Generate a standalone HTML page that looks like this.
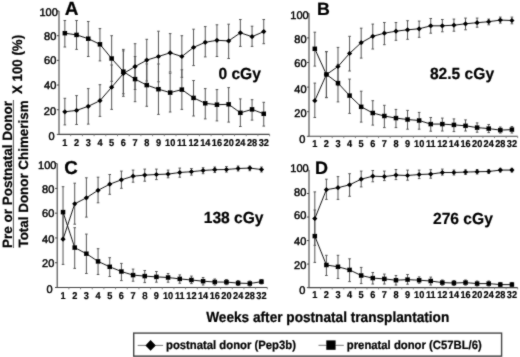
<!DOCTYPE html>
<html><head><meta charset="utf-8"><style>
html,body{margin:0;padding:0;background:#fff;}
svg{display:block;will-change:transform;}
text{font-family:"Liberation Sans", sans-serif;fill:#000;text-rendering:geometricPrecision;}
.h{stroke:#000;stroke-width:0.22px;}
</style></head><body>
<svg width="520" height="357" viewBox="0 0 520 357">
<defs><filter id="soft" filterUnits="userSpaceOnUse" x="0" y="0" width="520" height="357"><feConvolveMatrix order="3" kernelMatrix="0.025 0.08 0.025 0.08 0.58 0.08 0.025 0.08 0.025" edgeMode="duplicate"/></filter></defs>
<rect width="520" height="357" fill="#fff"/>
<g filter="url(#soft)">
<path d="M59.00 11.00V134.40H269.60" fill="none" stroke="#444" stroke-width="1.1"/>
<path d="M56.80 11.00H59.00M56.80 35.68H59.00M56.80 60.36H59.00M56.80 85.04H59.00M56.80 109.72H59.00M56.80 134.40H59.00" stroke="#444" stroke-width="1"/>
<path d="M70.70 134.40v1.8M82.40 134.40v1.8M94.10 134.40v1.8M105.80 134.40v1.8M117.50 134.40v1.8M129.20 134.40v1.8M140.90 134.40v1.8M152.60 134.40v1.8M164.30 134.40v1.8M176.00 134.40v1.8M187.70 134.40v1.8M199.40 134.40v1.8M211.10 134.40v1.8M222.80 134.40v1.8M234.50 134.40v1.8M246.20 134.40v1.8M257.90 134.40v1.8M269.60 134.40v1.8" stroke="#777" stroke-width="0.9"/>
<text x="57.80" y="15.90" text-anchor="end" font-size="11" stroke="#000" stroke-width="0.45">100</text>
<text x="56.30" y="40.40" text-anchor="end" font-size="11" stroke="#000" stroke-width="0.45">80</text>
<text x="56.30" y="64.10" text-anchor="end" font-size="11" stroke="#000" stroke-width="0.45">60</text>
<text x="56.30" y="89.40" text-anchor="end" font-size="11" stroke="#000" stroke-width="0.45">40</text>
<text x="56.10" y="114.70" text-anchor="end" font-size="11" stroke="#000" stroke-width="0.45">20</text>
<text x="54.70" y="139.60" text-anchor="end" font-size="11" stroke="#000" stroke-width="0.45">0</text>
<text transform="translate(64.85,145.60) scale(0.93,1)" text-anchor="middle" font-size="9.9" font-weight="bold" stroke="#000" stroke-width="0.2">1</text>
<text transform="translate(76.55,145.60) scale(0.93,1)" text-anchor="middle" font-size="9.9" font-weight="bold" stroke="#000" stroke-width="0.2">2</text>
<text transform="translate(88.25,145.60) scale(0.93,1)" text-anchor="middle" font-size="9.9" font-weight="bold" stroke="#000" stroke-width="0.2">3</text>
<text transform="translate(99.95,145.60) scale(0.93,1)" text-anchor="middle" font-size="9.9" font-weight="bold" stroke="#000" stroke-width="0.2">4</text>
<text transform="translate(111.65,145.60) scale(0.93,1)" text-anchor="middle" font-size="9.9" font-weight="bold" stroke="#000" stroke-width="0.2">5</text>
<text transform="translate(123.35,145.60) scale(0.93,1)" text-anchor="middle" font-size="9.9" font-weight="bold" stroke="#000" stroke-width="0.2">6</text>
<text transform="translate(135.05,145.60) scale(0.93,1)" text-anchor="middle" font-size="9.9" font-weight="bold" stroke="#000" stroke-width="0.2">7</text>
<text transform="translate(146.75,145.60) scale(0.93,1)" text-anchor="middle" font-size="9.9" font-weight="bold" stroke="#000" stroke-width="0.2">8</text>
<text transform="translate(158.45,145.60) scale(0.93,1)" text-anchor="middle" font-size="9.9" font-weight="bold" stroke="#000" stroke-width="0.2">9</text>
<text transform="translate(170.15,145.60) scale(0.93,1)" text-anchor="middle" font-size="9.9" font-weight="bold" stroke="#000" stroke-width="0.2">10</text>
<text transform="translate(181.85,145.60) scale(0.93,1)" text-anchor="middle" font-size="9.9" font-weight="bold" stroke="#000" stroke-width="0.2">11</text>
<text transform="translate(193.55,145.60) scale(0.93,1)" text-anchor="middle" font-size="9.9" font-weight="bold" stroke="#000" stroke-width="0.2">12</text>
<text transform="translate(205.25,145.60) scale(0.93,1)" text-anchor="middle" font-size="9.9" font-weight="bold" stroke="#000" stroke-width="0.2">14</text>
<text transform="translate(216.95,145.60) scale(0.93,1)" text-anchor="middle" font-size="9.9" font-weight="bold" stroke="#000" stroke-width="0.2">16</text>
<text transform="translate(228.65,145.60) scale(0.93,1)" text-anchor="middle" font-size="9.9" font-weight="bold" stroke="#000" stroke-width="0.2">20</text>
<text transform="translate(240.35,145.60) scale(0.93,1)" text-anchor="middle" font-size="9.9" font-weight="bold" stroke="#000" stroke-width="0.2">24</text>
<text transform="translate(252.05,145.60) scale(0.93,1)" text-anchor="middle" font-size="9.9" font-weight="bold" stroke="#000" stroke-width="0.2">28</text>
<text transform="translate(263.75,145.60) scale(0.93,1)" text-anchor="middle" font-size="9.9" font-weight="bold" stroke="#000" stroke-width="0.2">32</text>
<path d="M64.85 98.30V124.90M76.55 95.60V124.50M88.25 88.60V124.10M99.95 84.70V116.40M111.65 65.00V109.40M123.35 50.90V96.30M135.05 43.70V89.50M146.75 39.30V81.00M158.45 31.20V81.80M170.15 33.60V72.00M181.85 35.70V77.30M193.55 29.20V65.60M205.25 26.60V56.90M216.95 24.80V56.50M228.65 24.20V58.50M240.35 19.50V46.40M252.05 26.20V46.40M263.75 19.50V43.70" stroke="#555" stroke-width="1.0" fill="none"/>
<path d="M63.55 98.30h2.6M63.55 124.90h2.6M75.25 95.60h2.6M75.25 124.50h2.6M86.95 88.60h2.6M86.95 124.10h2.6M98.65 84.70h2.6M98.65 116.40h2.6M110.35 65.00h2.6M110.35 109.40h2.6M122.05 50.90h2.6M122.05 96.30h2.6M133.75 43.70h2.6M133.75 89.50h2.6M145.45 39.30h2.6M145.45 81.00h2.6M157.15 31.20h2.6M157.15 81.80h2.6M168.85 33.60h2.6M168.85 72.00h2.6M180.55 35.70h2.6M180.55 77.30h2.6M192.25 29.20h2.6M192.25 65.60h2.6M203.95 26.60h2.6M203.95 56.90h2.6M215.65 24.80h2.6M215.65 56.50h2.6M227.35 24.20h2.6M227.35 58.50h2.6M239.05 19.50h2.6M239.05 46.40h2.6M250.75 26.20h2.6M250.75 46.40h2.6M262.45 19.50h2.6M262.45 43.70h2.6" stroke="#555" stroke-width="1" fill="none"/>
<path d="M64.85 20.50V47.00M76.55 20.50V49.40M88.25 21.50V56.50M99.95 28.60V60.90M111.65 35.70V81.30M123.35 49.40V93.80M135.05 56.50V101.70M146.75 63.90V106.30M158.45 64.00V114.40M170.15 73.20V112.00M181.85 69.80V109.40M193.55 80.50V116.00M205.25 88.60V118.90M216.95 89.60V120.90M228.65 87.60V122.10M240.35 98.90V126.50M252.05 99.70V120.10M263.75 102.30V126.10" stroke="#555" stroke-width="1.0" fill="none"/>
<path d="M63.55 20.50h2.6M63.55 47.00h2.6M75.25 20.50h2.6M75.25 49.40h2.6M86.95 21.50h2.6M86.95 56.50h2.6M98.65 28.60h2.6M98.65 60.90h2.6M110.35 35.70h2.6M110.35 81.30h2.6M122.05 49.40h2.6M122.05 93.80h2.6M133.75 56.50h2.6M133.75 101.70h2.6M145.45 63.90h2.6M145.45 106.30h2.6M157.15 64.00h2.6M157.15 114.40h2.6M168.85 73.20h2.6M168.85 112.00h2.6M180.55 69.80h2.6M180.55 109.40h2.6M192.25 80.50h2.6M192.25 116.00h2.6M203.95 88.60h2.6M203.95 118.90h2.6M215.65 89.60h2.6M215.65 120.90h2.6M227.35 87.60h2.6M227.35 122.10h2.6M239.05 98.90h2.6M239.05 126.50h2.6M250.75 99.70h2.6M250.75 120.10h2.6M262.45 102.30h2.6M262.45 126.10h2.6" stroke="#555" stroke-width="1" fill="none"/>
<polyline points="64.85,111.80 76.55,110.40 88.25,106.30 99.95,100.70 111.65,87.20 123.35,73.60 135.05,66.60 146.75,60.10 158.45,56.50 170.15,52.80 181.85,56.50 193.55,47.40 205.25,42.30 216.95,40.30 228.65,40.90 240.35,32.80 252.05,36.70 263.75,31.60" fill="none" stroke="#111" stroke-width="1"/>
<polyline points="64.85,33.20 76.55,34.90 88.25,38.70 99.95,44.30 111.65,58.50 123.35,71.60 135.05,79.10 146.75,85.10 158.45,89.20 170.15,92.60 181.85,89.60 193.55,97.90 205.25,103.30 216.95,104.70 228.65,104.30 240.35,112.80 252.05,109.40 263.75,113.80" fill="none" stroke="#111" stroke-width="1"/>
<rect x="62.60" y="30.95" width="4.5" height="4.5" fill="#000"/>
<rect x="74.30" y="32.65" width="4.5" height="4.5" fill="#000"/>
<rect x="86.00" y="36.45" width="4.5" height="4.5" fill="#000"/>
<rect x="97.70" y="42.05" width="4.5" height="4.5" fill="#000"/>
<rect x="109.40" y="56.25" width="4.5" height="4.5" fill="#000"/>
<rect x="121.10" y="69.35" width="4.5" height="4.5" fill="#000"/>
<rect x="132.80" y="76.85" width="4.5" height="4.5" fill="#000"/>
<rect x="144.50" y="82.85" width="4.5" height="4.5" fill="#000"/>
<rect x="156.20" y="86.95" width="4.5" height="4.5" fill="#000"/>
<rect x="167.90" y="90.35" width="4.5" height="4.5" fill="#000"/>
<rect x="179.60" y="87.35" width="4.5" height="4.5" fill="#000"/>
<rect x="191.30" y="95.65" width="4.5" height="4.5" fill="#000"/>
<rect x="203.00" y="101.05" width="4.5" height="4.5" fill="#000"/>
<rect x="214.70" y="102.45" width="4.5" height="4.5" fill="#000"/>
<rect x="226.40" y="102.05" width="4.5" height="4.5" fill="#000"/>
<rect x="238.10" y="110.55" width="4.5" height="4.5" fill="#000"/>
<rect x="249.80" y="107.15" width="4.5" height="4.5" fill="#000"/>
<rect x="261.50" y="111.55" width="4.5" height="4.5" fill="#000"/>
<path d="M64.85 109.20L67.45 111.80L64.85 114.40L62.25 111.80Z" fill="#000"/>
<path d="M76.55 107.80L79.15 110.40L76.55 113.00L73.95 110.40Z" fill="#000"/>
<path d="M88.25 103.70L90.85 106.30L88.25 108.90L85.65 106.30Z" fill="#000"/>
<path d="M99.95 98.10L102.55 100.70L99.95 103.30L97.35 100.70Z" fill="#000"/>
<path d="M111.65 84.60L114.25 87.20L111.65 89.80L109.05 87.20Z" fill="#000"/>
<path d="M123.35 71.00L125.95 73.60L123.35 76.20L120.75 73.60Z" fill="#000"/>
<path d="M135.05 64.00L137.65 66.60L135.05 69.20L132.45 66.60Z" fill="#000"/>
<path d="M146.75 57.50L149.35 60.10L146.75 62.70L144.15 60.10Z" fill="#000"/>
<path d="M158.45 53.90L161.05 56.50L158.45 59.10L155.85 56.50Z" fill="#000"/>
<path d="M170.15 50.20L172.75 52.80L170.15 55.40L167.55 52.80Z" fill="#000"/>
<path d="M181.85 53.90L184.45 56.50L181.85 59.10L179.25 56.50Z" fill="#000"/>
<path d="M193.55 44.80L196.15 47.40L193.55 50.00L190.95 47.40Z" fill="#000"/>
<path d="M205.25 39.70L207.85 42.30L205.25 44.90L202.65 42.30Z" fill="#000"/>
<path d="M216.95 37.70L219.55 40.30L216.95 42.90L214.35 40.30Z" fill="#000"/>
<path d="M228.65 38.30L231.25 40.90L228.65 43.50L226.05 40.90Z" fill="#000"/>
<path d="M240.35 30.20L242.95 32.80L240.35 35.40L237.75 32.80Z" fill="#000"/>
<path d="M252.05 34.10L254.65 36.70L252.05 39.30L249.45 36.70Z" fill="#000"/>
<path d="M263.75 29.00L266.35 31.60L263.75 34.20L261.15 31.60Z" fill="#000"/>
<text x="64.80" y="14.60" font-size="19" font-weight="bold" class="h">A</text>
<text transform="translate(218.40,78.50) scale(0.975,1)" font-size="16" font-weight="bold" class="h">0 cGy</text>
<path d="M309.00 13.30V136.30H517.70" fill="none" stroke="#444" stroke-width="1.1"/>
<path d="M306.80 13.30H309.00M306.80 37.90H309.00M306.80 62.50H309.00M306.80 87.10H309.00M306.80 111.70H309.00M306.80 136.30H309.00" stroke="#444" stroke-width="1"/>
<path d="M320.59 136.30v1.8M332.19 136.30v1.8M343.78 136.30v1.8M355.38 136.30v1.8M366.97 136.30v1.8M378.57 136.30v1.8M390.16 136.30v1.8M401.76 136.30v1.8M413.35 136.30v1.8M424.94 136.30v1.8M436.54 136.30v1.8M448.13 136.30v1.8M459.73 136.30v1.8M471.32 136.30v1.8M482.92 136.30v1.8M494.51 136.30v1.8M506.11 136.30v1.8M517.70 136.30v1.8" stroke="#777" stroke-width="0.9"/>
<text x="308.70" y="19.10" text-anchor="end" font-size="11" stroke="#000" stroke-width="0.45">100</text>
<text x="306.60" y="42.90" text-anchor="end" font-size="11" stroke="#000" stroke-width="0.45">80</text>
<text x="306.60" y="66.80" text-anchor="end" font-size="11" stroke="#000" stroke-width="0.45">60</text>
<text x="306.60" y="93.30" text-anchor="end" font-size="11" stroke="#000" stroke-width="0.45">40</text>
<text x="306.60" y="117.20" text-anchor="end" font-size="11" stroke="#000" stroke-width="0.45">20</text>
<text x="305.30" y="142.70" text-anchor="end" font-size="11" stroke="#000" stroke-width="0.45">0</text>
<text transform="translate(314.80,146.60) scale(0.93,1)" text-anchor="middle" font-size="9.9" font-weight="bold" stroke="#000" stroke-width="0.2">1</text>
<text transform="translate(326.39,146.60) scale(0.93,1)" text-anchor="middle" font-size="9.9" font-weight="bold" stroke="#000" stroke-width="0.2">2</text>
<text transform="translate(337.99,146.60) scale(0.93,1)" text-anchor="middle" font-size="9.9" font-weight="bold" stroke="#000" stroke-width="0.2">3</text>
<text transform="translate(349.58,146.60) scale(0.93,1)" text-anchor="middle" font-size="9.9" font-weight="bold" stroke="#000" stroke-width="0.2">4</text>
<text transform="translate(361.18,146.60) scale(0.93,1)" text-anchor="middle" font-size="9.9" font-weight="bold" stroke="#000" stroke-width="0.2">5</text>
<text transform="translate(372.77,146.60) scale(0.93,1)" text-anchor="middle" font-size="9.9" font-weight="bold" stroke="#000" stroke-width="0.2">6</text>
<text transform="translate(384.36,146.60) scale(0.93,1)" text-anchor="middle" font-size="9.9" font-weight="bold" stroke="#000" stroke-width="0.2">7</text>
<text transform="translate(395.96,146.60) scale(0.93,1)" text-anchor="middle" font-size="9.9" font-weight="bold" stroke="#000" stroke-width="0.2">8</text>
<text transform="translate(407.55,146.60) scale(0.93,1)" text-anchor="middle" font-size="9.9" font-weight="bold" stroke="#000" stroke-width="0.2">9</text>
<text transform="translate(419.15,146.60) scale(0.93,1)" text-anchor="middle" font-size="9.9" font-weight="bold" stroke="#000" stroke-width="0.2">10</text>
<text transform="translate(430.74,146.60) scale(0.93,1)" text-anchor="middle" font-size="9.9" font-weight="bold" stroke="#000" stroke-width="0.2">11</text>
<text transform="translate(442.34,146.60) scale(0.93,1)" text-anchor="middle" font-size="9.9" font-weight="bold" stroke="#000" stroke-width="0.2">12</text>
<text transform="translate(453.93,146.60) scale(0.93,1)" text-anchor="middle" font-size="9.9" font-weight="bold" stroke="#000" stroke-width="0.2">14</text>
<text transform="translate(465.53,146.60) scale(0.93,1)" text-anchor="middle" font-size="9.9" font-weight="bold" stroke="#000" stroke-width="0.2">16</text>
<text transform="translate(477.12,146.60) scale(0.93,1)" text-anchor="middle" font-size="9.9" font-weight="bold" stroke="#000" stroke-width="0.2">20</text>
<text transform="translate(488.71,146.60) scale(0.93,1)" text-anchor="middle" font-size="9.9" font-weight="bold" stroke="#000" stroke-width="0.2">24</text>
<text transform="translate(500.31,146.60) scale(0.93,1)" text-anchor="middle" font-size="9.9" font-weight="bold" stroke="#000" stroke-width="0.2">28</text>
<text transform="translate(511.90,146.60) scale(0.93,1)" text-anchor="middle" font-size="9.9" font-weight="bold" stroke="#000" stroke-width="0.2">32</text>
<path d="M314.80 83.10V117.50M326.39 51.80V97.40M337.99 47.40V85.60M349.58 36.30V71.00M361.18 28.20V58.10M372.77 24.10V49.00M384.36 22.50V44.70M395.96 22.50V40.30M407.55 20.70V39.30M419.15 21.10V37.30M430.74 18.50V33.20M442.34 19.50V31.80M453.93 19.10V31.20M465.53 18.10V29.80M477.12 18.10V27.20M488.71 19.10V24.80M500.31 17.10V23.10M511.90 17.10V23.80" stroke="#555" stroke-width="1.0" fill="none"/>
<path d="M313.50 83.10h2.6M313.50 117.50h2.6M325.09 51.80h2.6M325.09 97.40h2.6M336.69 47.40h2.6M336.69 85.60h2.6M348.28 36.30h2.6M348.28 71.00h2.6M359.88 28.20h2.6M359.88 58.10h2.6M371.47 24.10h2.6M371.47 49.00h2.6M383.06 22.50h2.6M383.06 44.70h2.6M394.66 22.50h2.6M394.66 40.30h2.6M406.25 20.70h2.6M406.25 39.30h2.6M417.85 21.10h2.6M417.85 37.30h2.6M429.44 18.50h2.6M429.44 33.20h2.6M441.04 19.50h2.6M441.04 31.80h2.6M452.63 19.10h2.6M452.63 31.20h2.6M464.23 18.10h2.6M464.23 29.80h2.6M475.82 18.10h2.6M475.82 27.20h2.6M487.41 19.10h2.6M487.41 24.80h2.6M499.01 17.10h2.6M499.01 23.10h2.6M510.60 17.10h2.6M510.60 23.80h2.6" stroke="#555" stroke-width="1" fill="none"/>
<path d="M314.80 32.20V66.10M326.39 51.50V97.70M337.99 64.30V101.90M349.58 79.10V113.40M361.18 91.20V122.10M372.77 100.70V125.10M384.36 105.30V127.60M395.96 109.40V127.60M407.55 110.40V129.20M419.15 112.40V129.20M430.74 117.50V131.20M442.34 118.10V131.00M453.93 118.90V131.60M465.53 119.90V131.00M477.12 122.90V132.20M488.71 124.50V132.60M500.31 127.00V133.00M511.90 126.50V133.00" stroke="#555" stroke-width="1.0" fill="none"/>
<path d="M313.50 32.20h2.6M313.50 66.10h2.6M325.09 51.50h2.6M325.09 97.70h2.6M336.69 64.30h2.6M336.69 101.90h2.6M348.28 79.10h2.6M348.28 113.40h2.6M359.88 91.20h2.6M359.88 122.10h2.6M371.47 100.70h2.6M371.47 125.10h2.6M383.06 105.30h2.6M383.06 127.60h2.6M394.66 109.40h2.6M394.66 127.60h2.6M406.25 110.40h2.6M406.25 129.20h2.6M417.85 112.40h2.6M417.85 129.20h2.6M429.44 117.50h2.6M429.44 131.20h2.6M441.04 118.10h2.6M441.04 131.00h2.6M452.63 118.90h2.6M452.63 131.60h2.6M464.23 119.90h2.6M464.23 131.00h2.6M475.82 122.90h2.6M475.82 132.20h2.6M487.41 124.50h2.6M487.41 132.60h2.6M499.01 127.00h2.6M499.01 133.00h2.6M510.60 126.50h2.6M510.60 133.00h2.6" stroke="#555" stroke-width="1" fill="none"/>
<polyline points="314.80,100.70 326.39,74.60 337.99,66.50 349.58,53.40 361.18,42.70 372.77,36.30 384.36,33.20 395.96,31.20 407.55,29.80 419.15,28.80 430.74,25.80 442.34,25.80 453.93,25.20 465.53,23.80 477.12,22.70 488.71,21.70 500.31,20.10 511.90,20.50" fill="none" stroke="#111" stroke-width="1"/>
<polyline points="314.80,48.80 326.39,74.40 337.99,83.10 349.58,95.60 361.18,106.80 372.77,113.00 384.36,116.00 395.96,118.10 407.55,119.50 419.15,120.50 430.74,124.10 442.34,124.10 453.93,124.90 465.53,125.80 477.12,127.60 488.71,128.60 500.31,130.10 511.90,129.60" fill="none" stroke="#111" stroke-width="1"/>
<rect x="312.55" y="46.55" width="4.5" height="4.5" fill="#000"/>
<rect x="324.14" y="72.15" width="4.5" height="4.5" fill="#000"/>
<rect x="335.74" y="80.85" width="4.5" height="4.5" fill="#000"/>
<rect x="347.33" y="93.35" width="4.5" height="4.5" fill="#000"/>
<rect x="358.93" y="104.55" width="4.5" height="4.5" fill="#000"/>
<rect x="370.52" y="110.75" width="4.5" height="4.5" fill="#000"/>
<rect x="382.11" y="113.75" width="4.5" height="4.5" fill="#000"/>
<rect x="393.71" y="115.85" width="4.5" height="4.5" fill="#000"/>
<rect x="405.30" y="117.25" width="4.5" height="4.5" fill="#000"/>
<rect x="416.90" y="118.25" width="4.5" height="4.5" fill="#000"/>
<rect x="428.49" y="121.85" width="4.5" height="4.5" fill="#000"/>
<rect x="440.09" y="121.85" width="4.5" height="4.5" fill="#000"/>
<rect x="451.68" y="122.65" width="4.5" height="4.5" fill="#000"/>
<rect x="463.28" y="123.55" width="4.5" height="4.5" fill="#000"/>
<rect x="474.87" y="125.35" width="4.5" height="4.5" fill="#000"/>
<rect x="486.46" y="126.35" width="4.5" height="4.5" fill="#000"/>
<rect x="498.06" y="127.85" width="4.5" height="4.5" fill="#000"/>
<rect x="509.65" y="127.35" width="4.5" height="4.5" fill="#000"/>
<path d="M314.80 98.10L317.40 100.70L314.80 103.30L312.20 100.70Z" fill="#000"/>
<path d="M326.39 72.00L328.99 74.60L326.39 77.20L323.79 74.60Z" fill="#000"/>
<path d="M337.99 63.90L340.59 66.50L337.99 69.10L335.39 66.50Z" fill="#000"/>
<path d="M349.58 50.80L352.18 53.40L349.58 56.00L346.98 53.40Z" fill="#000"/>
<path d="M361.18 40.10L363.78 42.70L361.18 45.30L358.57 42.70Z" fill="#000"/>
<path d="M372.77 33.70L375.37 36.30L372.77 38.90L370.17 36.30Z" fill="#000"/>
<path d="M384.36 30.60L386.96 33.20L384.36 35.80L381.76 33.20Z" fill="#000"/>
<path d="M395.96 28.60L398.56 31.20L395.96 33.80L393.36 31.20Z" fill="#000"/>
<path d="M407.55 27.20L410.15 29.80L407.55 32.40L404.95 29.80Z" fill="#000"/>
<path d="M419.15 26.20L421.75 28.80L419.15 31.40L416.55 28.80Z" fill="#000"/>
<path d="M430.74 23.20L433.34 25.80L430.74 28.40L428.14 25.80Z" fill="#000"/>
<path d="M442.34 23.20L444.94 25.80L442.34 28.40L439.74 25.80Z" fill="#000"/>
<path d="M453.93 22.60L456.53 25.20L453.93 27.80L451.33 25.20Z" fill="#000"/>
<path d="M465.53 21.20L468.13 23.80L465.53 26.40L462.93 23.80Z" fill="#000"/>
<path d="M477.12 20.10L479.72 22.70L477.12 25.30L474.52 22.70Z" fill="#000"/>
<path d="M488.71 19.10L491.31 21.70L488.71 24.30L486.11 21.70Z" fill="#000"/>
<path d="M500.31 17.50L502.91 20.10L500.31 22.70L497.71 20.10Z" fill="#000"/>
<path d="M511.90 17.90L514.50 20.50L511.90 23.10L509.30 20.50Z" fill="#000"/>
<text x="317.00" y="14.50" font-size="17.8" font-weight="bold" class="h">B</text>
<text transform="translate(429.90,78.70) scale(0.975,1)" font-size="16" font-weight="bold" class="h">82.5 cGy</text>
<path d="M57.20 163.60V287.50H267.30" fill="none" stroke="#444" stroke-width="1.1"/>
<path d="M55.00 163.60H57.20M55.00 188.38H57.20M55.00 213.16H57.20M55.00 237.94H57.20M55.00 262.72H57.20M55.00 287.50H57.20" stroke="#444" stroke-width="1"/>
<path d="M68.87 287.50v1.8M80.54 287.50v1.8M92.22 287.50v1.8M103.89 287.50v1.8M115.56 287.50v1.8M127.23 287.50v1.8M138.91 287.50v1.8M150.58 287.50v1.8M162.25 287.50v1.8M173.92 287.50v1.8M185.59 287.50v1.8M197.27 287.50v1.8M208.94 287.50v1.8M220.61 287.50v1.8M232.28 287.50v1.8M243.96 287.50v1.8M255.63 287.50v1.8M267.30 287.50v1.8" stroke="#777" stroke-width="0.9"/>
<text x="56.40" y="169.10" text-anchor="end" font-size="11" stroke="#000" stroke-width="0.45">100</text>
<text x="54.30" y="192.90" text-anchor="end" font-size="11" stroke="#000" stroke-width="0.45">80</text>
<text x="54.30" y="216.80" text-anchor="end" font-size="11" stroke="#000" stroke-width="0.45">60</text>
<text x="54.30" y="243.30" text-anchor="end" font-size="11" stroke="#000" stroke-width="0.45">40</text>
<text x="54.30" y="267.40" text-anchor="end" font-size="11" stroke="#000" stroke-width="0.45">20</text>
<text x="52.70" y="292.80" text-anchor="end" font-size="11" stroke="#000" stroke-width="0.45">0</text>
<text transform="translate(63.04,298.50) scale(0.93,1)" text-anchor="middle" font-size="9.9" font-weight="bold" stroke="#000" stroke-width="0.2">1</text>
<text transform="translate(74.71,298.50) scale(0.93,1)" text-anchor="middle" font-size="9.9" font-weight="bold" stroke="#000" stroke-width="0.2">2</text>
<text transform="translate(86.38,298.50) scale(0.93,1)" text-anchor="middle" font-size="9.9" font-weight="bold" stroke="#000" stroke-width="0.2">3</text>
<text transform="translate(98.05,298.50) scale(0.93,1)" text-anchor="middle" font-size="9.9" font-weight="bold" stroke="#000" stroke-width="0.2">4</text>
<text transform="translate(109.73,298.50) scale(0.93,1)" text-anchor="middle" font-size="9.9" font-weight="bold" stroke="#000" stroke-width="0.2">5</text>
<text transform="translate(121.40,298.50) scale(0.93,1)" text-anchor="middle" font-size="9.9" font-weight="bold" stroke="#000" stroke-width="0.2">6</text>
<text transform="translate(133.07,298.50) scale(0.93,1)" text-anchor="middle" font-size="9.9" font-weight="bold" stroke="#000" stroke-width="0.2">7</text>
<text transform="translate(145.04,299.40)" text-anchor="middle" font-size="9.6" stroke="#000" stroke-width="0.45">8</text>
<text transform="translate(156.41,298.50) scale(0.93,1)" text-anchor="middle" font-size="9.9" font-weight="bold" stroke="#000" stroke-width="0.2">9</text>
<text transform="translate(168.09,298.50) scale(0.93,1)" text-anchor="middle" font-size="9.9" font-weight="bold" stroke="#000" stroke-width="0.2">10</text>
<text transform="translate(179.76,298.50) scale(0.93,1)" text-anchor="middle" font-size="9.9" font-weight="bold" stroke="#000" stroke-width="0.2">11</text>
<text transform="translate(191.43,298.50) scale(0.93,1)" text-anchor="middle" font-size="9.9" font-weight="bold" stroke="#000" stroke-width="0.2">12</text>
<text transform="translate(203.10,298.50) scale(0.93,1)" text-anchor="middle" font-size="9.9" font-weight="bold" stroke="#000" stroke-width="0.2">14</text>
<text transform="translate(214.78,298.50) scale(0.93,1)" text-anchor="middle" font-size="9.9" font-weight="bold" stroke="#000" stroke-width="0.2">16</text>
<text transform="translate(226.45,298.50) scale(0.93,1)" text-anchor="middle" font-size="9.9" font-weight="bold" stroke="#000" stroke-width="0.2">20</text>
<text transform="translate(238.12,298.50) scale(0.93,1)" text-anchor="middle" font-size="9.9" font-weight="bold" stroke="#000" stroke-width="0.2">24</text>
<text transform="translate(249.79,298.50) scale(0.93,1)" text-anchor="middle" font-size="9.9" font-weight="bold" stroke="#000" stroke-width="0.2">28</text>
<text transform="translate(261.46,298.50) scale(0.93,1)" text-anchor="middle" font-size="9.9" font-weight="bold" stroke="#000" stroke-width="0.2">32</text>
<path d="M63.04 214.00V264.40M74.71 183.20V224.20M86.38 177.80V217.10M98.05 177.20V202.80M109.73 174.50V194.30M121.40 171.10V188.30M133.07 170.10V182.20M144.74 169.10V181.20M156.41 169.10V179.60M168.09 170.10V177.80M179.76 168.10V177.20M191.43 168.50V175.10M203.10 167.70V173.70M214.78 167.00V172.50M226.45 166.50V172.10M238.12 166.00V171.00M249.79 166.10V170.70M261.46 167.00V172.00" stroke="#555" stroke-width="1.0" fill="none"/>
<path d="M61.74 214.00h2.6M61.74 264.40h2.6M73.41 183.20h2.6M73.41 224.20h2.6M85.08 177.80h2.6M85.08 217.10h2.6M96.75 177.20h2.6M96.75 202.80h2.6M108.43 174.50h2.6M108.43 194.30h2.6M120.10 171.10h2.6M120.10 188.30h2.6M131.77 170.10h2.6M131.77 182.20h2.6M143.44 169.10h2.6M143.44 181.20h2.6M155.11 169.10h2.6M155.11 179.60h2.6M166.79 170.10h2.6M166.79 177.80h2.6M178.46 168.10h2.6M178.46 177.20h2.6M190.13 168.50h2.6M190.13 175.10h2.6M201.80 167.70h2.6M201.80 173.70h2.6M213.48 167.00h2.6M213.48 172.50h2.6M225.15 166.50h2.6M225.15 172.10h2.6M236.82 166.00h2.6M236.82 171.00h2.6M248.49 166.10h2.6M248.49 170.70h2.6M260.16 167.00h2.6M260.16 172.00h2.6" stroke="#555" stroke-width="1" fill="none"/>
<path d="M63.04 186.70V237.50M74.71 227.70V268.40M86.38 234.10V273.50M98.05 248.70V274.50M109.73 257.70V276.50M121.40 263.40V280.60M133.07 269.10V281.20M144.74 270.50V282.60M156.41 271.50V282.20M168.09 273.50V282.20M179.76 274.90V283.20M191.43 276.10V283.60M203.10 277.50V285.00M214.78 279.00V285.00M226.45 279.50V284.70M238.12 280.50V285.50M249.79 281.00V286.00M261.46 279.50V284.00" stroke="#555" stroke-width="1.0" fill="none"/>
<path d="M61.74 186.70h2.6M61.74 237.50h2.6M73.41 227.70h2.6M73.41 268.40h2.6M85.08 234.10h2.6M85.08 273.50h2.6M96.75 248.70h2.6M96.75 274.50h2.6M108.43 257.70h2.6M108.43 276.50h2.6M120.10 263.40h2.6M120.10 280.60h2.6M131.77 269.10h2.6M131.77 281.20h2.6M143.44 270.50h2.6M143.44 282.60h2.6M155.11 271.50h2.6M155.11 282.20h2.6M166.79 273.50h2.6M166.79 282.20h2.6M178.46 274.90h2.6M178.46 283.20h2.6M190.13 276.10h2.6M190.13 283.60h2.6M201.80 277.50h2.6M201.80 285.00h2.6M213.48 279.00h2.6M213.48 285.00h2.6M225.15 279.50h2.6M225.15 284.70h2.6M236.82 280.50h2.6M236.82 285.50h2.6M248.49 281.00h2.6M248.49 286.00h2.6M260.16 279.50h2.6M260.16 284.00h2.6" stroke="#555" stroke-width="1" fill="none"/>
<polyline points="63.04,239.20 74.71,203.80 86.38,197.80 98.05,190.30 109.73,184.20 121.40,179.80 133.07,176.20 144.74,175.10 156.41,174.50 168.09,174.10 179.76,172.50 191.43,171.70 203.10,170.50 214.78,169.70 226.45,169.50 238.12,168.50 249.79,168.10 261.46,169.50" fill="none" stroke="#111" stroke-width="1"/>
<polyline points="63.04,212.10 74.71,247.60 86.38,253.70 98.05,261.40 109.73,266.80 121.40,271.50 133.07,275.10 144.74,276.10 156.41,276.90 168.09,277.50 179.76,278.90 191.43,280.00 203.10,281.20 214.78,282.00 226.45,282.10 238.12,283.10 249.79,283.50 261.46,281.70" fill="none" stroke="#111" stroke-width="1"/>
<rect x="60.79" y="209.85" width="4.5" height="4.5" fill="#000"/>
<rect x="72.46" y="245.35" width="4.5" height="4.5" fill="#000"/>
<rect x="84.13" y="251.45" width="4.5" height="4.5" fill="#000"/>
<rect x="95.80" y="259.15" width="4.5" height="4.5" fill="#000"/>
<rect x="107.48" y="264.55" width="4.5" height="4.5" fill="#000"/>
<rect x="119.15" y="269.25" width="4.5" height="4.5" fill="#000"/>
<rect x="130.82" y="272.85" width="4.5" height="4.5" fill="#000"/>
<rect x="142.49" y="273.85" width="4.5" height="4.5" fill="#000"/>
<rect x="154.16" y="274.65" width="4.5" height="4.5" fill="#000"/>
<rect x="165.84" y="275.25" width="4.5" height="4.5" fill="#000"/>
<rect x="177.51" y="276.65" width="4.5" height="4.5" fill="#000"/>
<rect x="189.18" y="277.75" width="4.5" height="4.5" fill="#000"/>
<rect x="200.85" y="278.95" width="4.5" height="4.5" fill="#000"/>
<rect x="212.53" y="279.75" width="4.5" height="4.5" fill="#000"/>
<rect x="224.20" y="279.85" width="4.5" height="4.5" fill="#000"/>
<rect x="235.87" y="280.85" width="4.5" height="4.5" fill="#000"/>
<rect x="247.54" y="281.25" width="4.5" height="4.5" fill="#000"/>
<rect x="259.21" y="279.45" width="4.5" height="4.5" fill="#000"/>
<path d="M63.04 236.60L65.64 239.20L63.04 241.80L60.44 239.20Z" fill="#000"/>
<path d="M74.71 201.20L77.31 203.80L74.71 206.40L72.11 203.80Z" fill="#000"/>
<path d="M86.38 195.20L88.98 197.80L86.38 200.40L83.78 197.80Z" fill="#000"/>
<path d="M98.05 187.70L100.65 190.30L98.05 192.90L95.45 190.30Z" fill="#000"/>
<path d="M109.73 181.60L112.33 184.20L109.73 186.80L107.13 184.20Z" fill="#000"/>
<path d="M121.40 177.20L124.00 179.80L121.40 182.40L118.80 179.80Z" fill="#000"/>
<path d="M133.07 173.60L135.67 176.20L133.07 178.80L130.47 176.20Z" fill="#000"/>
<path d="M144.74 172.50L147.34 175.10L144.74 177.70L142.14 175.10Z" fill="#000"/>
<path d="M156.41 171.90L159.01 174.50L156.41 177.10L153.81 174.50Z" fill="#000"/>
<path d="M168.09 171.50L170.69 174.10L168.09 176.70L165.49 174.10Z" fill="#000"/>
<path d="M179.76 169.90L182.36 172.50L179.76 175.10L177.16 172.50Z" fill="#000"/>
<path d="M191.43 169.10L194.03 171.70L191.43 174.30L188.83 171.70Z" fill="#000"/>
<path d="M203.10 167.90L205.70 170.50L203.10 173.10L200.50 170.50Z" fill="#000"/>
<path d="M214.78 167.10L217.38 169.70L214.78 172.30L212.18 169.70Z" fill="#000"/>
<path d="M226.45 166.90L229.05 169.50L226.45 172.10L223.85 169.50Z" fill="#000"/>
<path d="M238.12 165.90L240.72 168.50L238.12 171.10L235.52 168.50Z" fill="#000"/>
<path d="M249.79 165.50L252.39 168.10L249.79 170.70L247.19 168.10Z" fill="#000"/>
<path d="M261.46 166.90L264.06 169.50L261.46 172.10L258.86 169.50Z" fill="#000"/>
<text x="64.20" y="174.00" font-size="18.8" font-weight="bold" class="h">C</text>
<text transform="translate(203.70,222.90) scale(0.975,1)" font-size="16" font-weight="bold" class="h">138 cGy</text>
<path d="M309.00 170.00V287.60H517.70" fill="none" stroke="#444" stroke-width="1.1"/>
<path d="M306.80 170.00H309.00M306.80 193.52H309.00M306.80 217.04H309.00M306.80 240.56H309.00M306.80 264.08H309.00M306.80 287.60H309.00" stroke="#444" stroke-width="1"/>
<path d="M320.59 287.60v1.8M332.19 287.60v1.8M343.78 287.60v1.8M355.38 287.60v1.8M366.97 287.60v1.8M378.57 287.60v1.8M390.16 287.60v1.8M401.76 287.60v1.8M413.35 287.60v1.8M424.94 287.60v1.8M436.54 287.60v1.8M448.13 287.60v1.8M459.73 287.60v1.8M471.32 287.60v1.8M482.92 287.60v1.8M494.51 287.60v1.8M506.11 287.60v1.8M517.70 287.60v1.8" stroke="#777" stroke-width="0.9"/>
<text x="308.70" y="172.00" text-anchor="end" font-size="11" stroke="#000" stroke-width="0.45">100</text>
<text x="306.30" y="196.40" text-anchor="end" font-size="11" stroke="#000" stroke-width="0.45">80</text>
<text x="306.30" y="219.20" text-anchor="end" font-size="11" stroke="#000" stroke-width="0.45">60</text>
<text x="306.30" y="245.20" text-anchor="end" font-size="11" stroke="#000" stroke-width="0.45">40</text>
<text x="306.30" y="268.90" text-anchor="end" font-size="11" stroke="#000" stroke-width="0.45">20</text>
<text x="305.30" y="294.30" text-anchor="end" font-size="11" stroke="#000" stroke-width="0.45">0</text>
<text transform="translate(314.80,297.80) scale(0.93,1)" text-anchor="middle" font-size="9.9" font-weight="bold" stroke="#000" stroke-width="0.2">1</text>
<text transform="translate(326.39,297.80) scale(0.93,1)" text-anchor="middle" font-size="9.9" font-weight="bold" stroke="#000" stroke-width="0.2">2</text>
<text transform="translate(337.99,297.80) scale(0.93,1)" text-anchor="middle" font-size="9.9" font-weight="bold" stroke="#000" stroke-width="0.2">3</text>
<text transform="translate(349.58,297.80) scale(0.93,1)" text-anchor="middle" font-size="9.9" font-weight="bold" stroke="#000" stroke-width="0.2">4</text>
<text transform="translate(361.18,297.80) scale(0.93,1)" text-anchor="middle" font-size="9.9" font-weight="bold" stroke="#000" stroke-width="0.2">5</text>
<text transform="translate(372.77,297.80) scale(0.93,1)" text-anchor="middle" font-size="9.9" font-weight="bold" stroke="#000" stroke-width="0.2">6</text>
<text transform="translate(384.36,297.80) scale(0.93,1)" text-anchor="middle" font-size="9.9" font-weight="bold" stroke="#000" stroke-width="0.2">7</text>
<text transform="translate(395.96,297.80) scale(0.93,1)" text-anchor="middle" font-size="9.9" font-weight="bold" stroke="#000" stroke-width="0.2">8</text>
<text transform="translate(407.55,297.80) scale(0.93,1)" text-anchor="middle" font-size="9.9" font-weight="bold" stroke="#000" stroke-width="0.2">9</text>
<text transform="translate(419.15,297.80) scale(0.93,1)" text-anchor="middle" font-size="9.9" font-weight="bold" stroke="#000" stroke-width="0.2">10</text>
<text transform="translate(430.74,297.80) scale(0.93,1)" text-anchor="middle" font-size="9.9" font-weight="bold" stroke="#000" stroke-width="0.2">11</text>
<text transform="translate(442.34,297.80) scale(0.93,1)" text-anchor="middle" font-size="9.9" font-weight="bold" stroke="#000" stroke-width="0.2">12</text>
<text transform="translate(453.93,297.80) scale(0.93,1)" text-anchor="middle" font-size="9.9" font-weight="bold" stroke="#000" stroke-width="0.2">14</text>
<text transform="translate(465.53,297.80) scale(0.93,1)" text-anchor="middle" font-size="9.9" font-weight="bold" stroke="#000" stroke-width="0.2">16</text>
<text transform="translate(477.12,297.80) scale(0.93,1)" text-anchor="middle" font-size="9.9" font-weight="bold" stroke="#000" stroke-width="0.2">20</text>
<text transform="translate(488.71,297.80) scale(0.93,1)" text-anchor="middle" font-size="9.9" font-weight="bold" stroke="#000" stroke-width="0.2">24</text>
<text transform="translate(500.31,297.80) scale(0.93,1)" text-anchor="middle" font-size="9.9" font-weight="bold" stroke="#000" stroke-width="0.2">28</text>
<text transform="translate(511.90,297.80) scale(0.93,1)" text-anchor="middle" font-size="9.9" font-weight="bold" stroke="#000" stroke-width="0.2">32</text>
<path d="M314.80 191.90V245.30M326.39 179.20V199.40M337.99 176.60V199.40M349.58 173.70V196.30M361.18 171.10V186.90M372.77 170.50V181.80M384.36 171.10V180.60M395.96 169.50V179.60M407.55 170.10V180.20M419.15 170.10V178.60M430.74 169.70V178.20M442.34 169.10V175.10M453.93 170.00V175.00M465.53 169.80V174.50M477.12 169.50V174.00M488.71 169.50V173.50M500.31 168.30V172.00M511.90 168.30V172.00" stroke="#555" stroke-width="1.0" fill="none"/>
<path d="M313.50 191.90h2.6M313.50 245.30h2.6M325.09 179.20h2.6M325.09 199.40h2.6M336.69 176.60h2.6M336.69 199.40h2.6M348.28 173.70h2.6M348.28 196.30h2.6M359.88 171.10h2.6M359.88 186.90h2.6M371.47 170.50h2.6M371.47 181.80h2.6M383.06 171.10h2.6M383.06 180.60h2.6M394.66 169.50h2.6M394.66 179.60h2.6M406.25 170.10h2.6M406.25 180.20h2.6M417.85 170.10h2.6M417.85 178.60h2.6M429.44 169.70h2.6M429.44 178.20h2.6M441.04 169.10h2.6M441.04 175.10h2.6M452.63 170.00h2.6M452.63 175.00h2.6M464.23 169.80h2.6M464.23 174.50h2.6M475.82 169.50h2.6M475.82 174.00h2.6M487.41 169.50h2.6M487.41 173.50h2.6M499.01 168.30h2.6M499.01 172.00h2.6M510.60 168.30h2.6M510.60 172.00h2.6" stroke="#555" stroke-width="1" fill="none"/>
<path d="M314.80 210.00V262.40M326.39 255.30V275.50M337.99 255.30V278.50M349.58 258.80V281.60M361.18 267.40V283.60M372.77 272.50V284.00M384.36 274.10V284.00M395.96 275.50V285.00M407.55 274.50V284.20M419.15 276.90V283.20M430.74 277.10V285.00M442.34 280.00V285.20M453.93 280.50V285.50M465.53 280.00V285.20M477.12 281.00V286.00M488.71 281.00V286.00M500.31 282.50V286.70M511.90 282.50V286.70" stroke="#555" stroke-width="1.0" fill="none"/>
<path d="M313.50 210.00h2.6M313.50 262.40h2.6M325.09 255.30h2.6M325.09 275.50h2.6M336.69 255.30h2.6M336.69 278.50h2.6M348.28 258.80h2.6M348.28 281.60h2.6M359.88 267.40h2.6M359.88 283.60h2.6M371.47 272.50h2.6M371.47 284.00h2.6M383.06 274.10h2.6M383.06 284.00h2.6M394.66 275.50h2.6M394.66 285.00h2.6M406.25 274.50h2.6M406.25 284.20h2.6M417.85 276.90h2.6M417.85 283.20h2.6M429.44 277.10h2.6M429.44 285.00h2.6M441.04 280.00h2.6M441.04 285.20h2.6M452.63 280.50h2.6M452.63 285.50h2.6M464.23 280.00h2.6M464.23 285.20h2.6M475.82 281.00h2.6M475.82 286.00h2.6M487.41 281.00h2.6M487.41 286.00h2.6M499.01 282.50h2.6M499.01 286.70h2.6M510.60 282.50h2.6M510.60 286.70h2.6" stroke="#555" stroke-width="1" fill="none"/>
<polyline points="314.80,218.60 326.39,189.70 337.99,187.70 349.58,184.80 361.18,179.20 372.77,176.20 384.36,176.60 395.96,175.10 407.55,175.50 419.15,174.50 430.74,174.10 442.34,172.50 453.93,172.50 465.53,172.10 477.12,171.70 488.71,171.50 500.31,170.10 511.90,170.10" fill="none" stroke="#111" stroke-width="1"/>
<polyline points="314.80,236.10 326.39,265.00 337.99,266.80 349.58,269.90 361.18,275.50 372.77,278.10 384.36,278.90 395.96,280.20 407.55,279.60 419.15,280.20 430.74,281.00 442.34,282.60 453.93,283.00 465.53,282.60 477.12,283.60 488.71,283.60 500.31,284.60 511.90,284.60" fill="none" stroke="#111" stroke-width="1"/>
<rect x="312.55" y="233.85" width="4.5" height="4.5" fill="#000"/>
<rect x="324.14" y="262.75" width="4.5" height="4.5" fill="#000"/>
<rect x="335.74" y="264.55" width="4.5" height="4.5" fill="#000"/>
<rect x="347.33" y="267.65" width="4.5" height="4.5" fill="#000"/>
<rect x="358.93" y="273.25" width="4.5" height="4.5" fill="#000"/>
<rect x="370.52" y="275.85" width="4.5" height="4.5" fill="#000"/>
<rect x="382.11" y="276.65" width="4.5" height="4.5" fill="#000"/>
<rect x="393.71" y="277.95" width="4.5" height="4.5" fill="#000"/>
<rect x="405.30" y="277.35" width="4.5" height="4.5" fill="#000"/>
<rect x="416.90" y="277.95" width="4.5" height="4.5" fill="#000"/>
<rect x="428.49" y="278.75" width="4.5" height="4.5" fill="#000"/>
<rect x="440.09" y="280.35" width="4.5" height="4.5" fill="#000"/>
<rect x="451.68" y="280.75" width="4.5" height="4.5" fill="#000"/>
<rect x="463.28" y="280.35" width="4.5" height="4.5" fill="#000"/>
<rect x="474.87" y="281.35" width="4.5" height="4.5" fill="#000"/>
<rect x="486.46" y="281.35" width="4.5" height="4.5" fill="#000"/>
<rect x="498.06" y="282.35" width="4.5" height="4.5" fill="#000"/>
<rect x="509.65" y="282.35" width="4.5" height="4.5" fill="#000"/>
<path d="M314.80 216.00L317.40 218.60L314.80 221.20L312.20 218.60Z" fill="#000"/>
<path d="M326.39 187.10L328.99 189.70L326.39 192.30L323.79 189.70Z" fill="#000"/>
<path d="M337.99 185.10L340.59 187.70L337.99 190.30L335.39 187.70Z" fill="#000"/>
<path d="M349.58 182.20L352.18 184.80L349.58 187.40L346.98 184.80Z" fill="#000"/>
<path d="M361.18 176.60L363.78 179.20L361.18 181.80L358.57 179.20Z" fill="#000"/>
<path d="M372.77 173.60L375.37 176.20L372.77 178.80L370.17 176.20Z" fill="#000"/>
<path d="M384.36 174.00L386.96 176.60L384.36 179.20L381.76 176.60Z" fill="#000"/>
<path d="M395.96 172.50L398.56 175.10L395.96 177.70L393.36 175.10Z" fill="#000"/>
<path d="M407.55 172.90L410.15 175.50L407.55 178.10L404.95 175.50Z" fill="#000"/>
<path d="M419.15 171.90L421.75 174.50L419.15 177.10L416.55 174.50Z" fill="#000"/>
<path d="M430.74 171.50L433.34 174.10L430.74 176.70L428.14 174.10Z" fill="#000"/>
<path d="M442.34 169.90L444.94 172.50L442.34 175.10L439.74 172.50Z" fill="#000"/>
<path d="M453.93 169.90L456.53 172.50L453.93 175.10L451.33 172.50Z" fill="#000"/>
<path d="M465.53 169.50L468.13 172.10L465.53 174.70L462.93 172.10Z" fill="#000"/>
<path d="M477.12 169.10L479.72 171.70L477.12 174.30L474.52 171.70Z" fill="#000"/>
<path d="M488.71 168.90L491.31 171.50L488.71 174.10L486.11 171.50Z" fill="#000"/>
<path d="M500.31 167.50L502.91 170.10L500.31 172.70L497.71 170.10Z" fill="#000"/>
<path d="M511.90 167.50L514.50 170.10L511.90 172.70L509.30 170.10Z" fill="#000"/>
<text x="315.00" y="174.40" font-size="18.0" font-weight="bold" class="h">D</text>
<text transform="translate(433.00,223.60) scale(0.975,1)" font-size="16" font-weight="bold" class="h">276 cGy</text>
<g transform="translate(11.5,248) rotate(-90)"><text x="0" y="0" font-size="13.5" font-weight="bold" class="h">Pre or Postnatal Donor</text></g>
<path d="M13.4 248V100" stroke="#555" stroke-width="1"/>
<g transform="translate(27.7,247.5) rotate(-90)"><text x="0" y="0" font-size="13.4" font-weight="bold" class="h">Total Donor Chimerism</text></g>
<g transform="translate(22.3,94.0) rotate(-90) scale(1,1.04)"><text x="0" y="0" font-size="13.3" font-weight="bold" class="h">X 100 (%)</text></g>
<text transform="translate(206.2,322.1) scale(1,1.07)" font-size="13.65" font-weight="bold" class="h">Weeks after postnatal transplantation</text>
<rect x="133.7" y="333.1" width="367.9" height="23.0" fill="none" stroke="#444" stroke-width="1.4"/>
<path d="M137.7 345.4H163.1" stroke="#777" stroke-width="1"/>
<path d="M150.6 340.1L155.8 345.4L150.6 350.7L145.4 345.4Z" fill="#000"/>
<text transform="translate(166.0,348.6) scale(1,1.07)" font-size="11.3" font-weight="bold" class="h">postnatal donor (Pep3b)</text>
<path d="M318.5 345.3H343.8" stroke="#777" stroke-width="1"/>
<rect x="326.3" y="340.4" width="9.3" height="9.4" fill="#000"/>
<text transform="translate(346.8,348.6) scale(1,1.07)" font-size="11.3" font-weight="bold" class="h">prenatal donor (C57BL/6)</text>
</g>
</svg>
</body></html>
